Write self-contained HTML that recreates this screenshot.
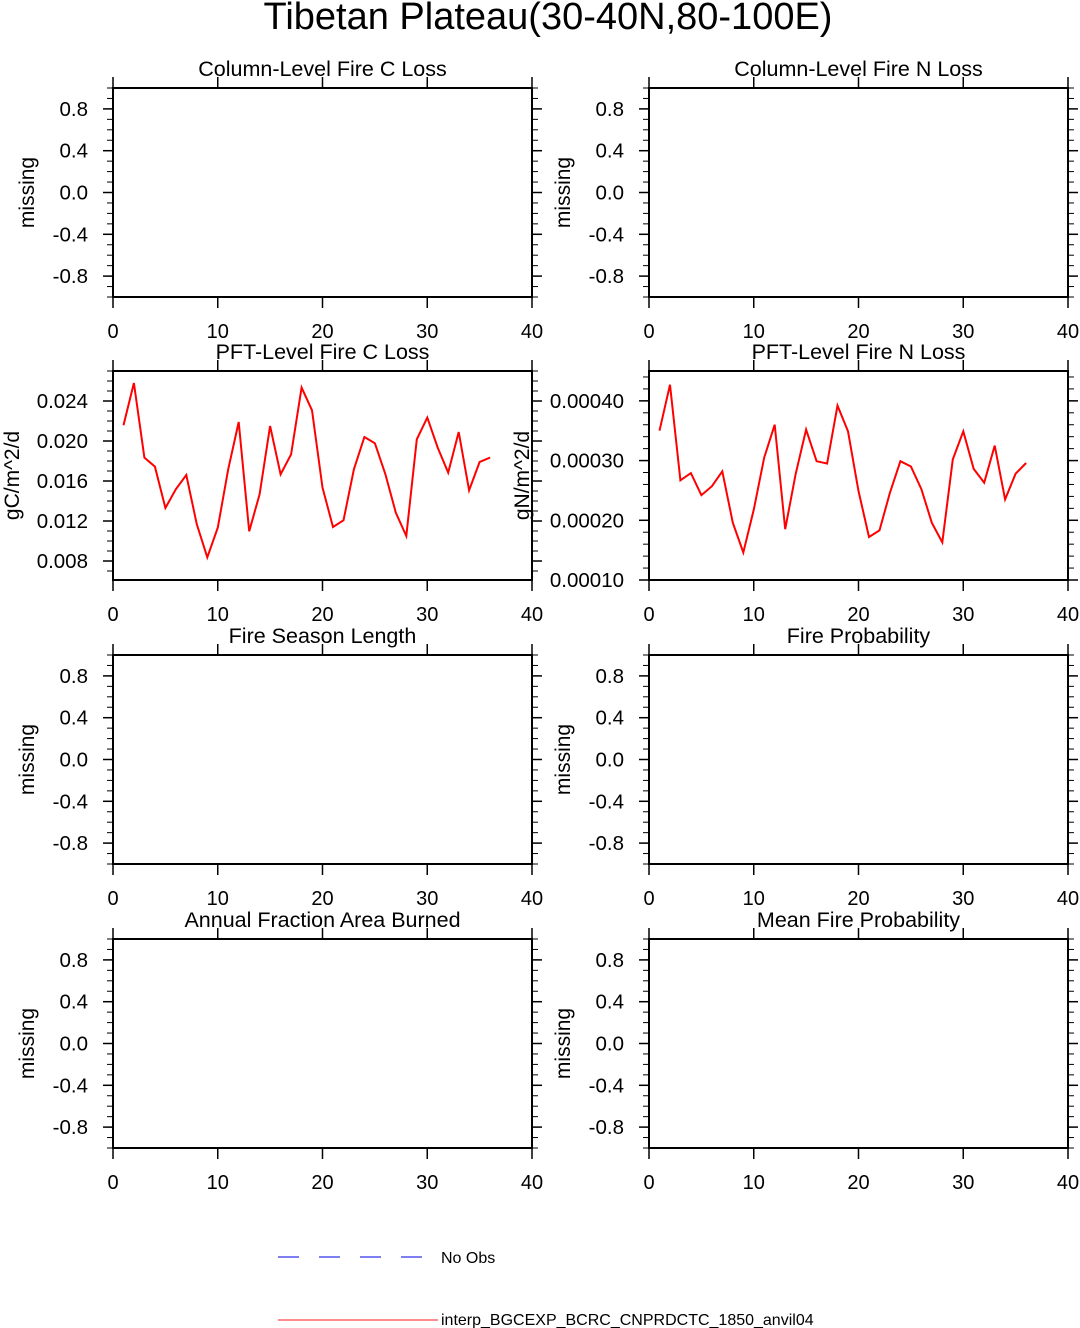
<!DOCTYPE html>
<html><head><meta charset="utf-8"><style>
html,body{margin:0;padding:0;background:#fff;}
svg{display:block;font-family:"Liberation Sans",Arial,sans-serif;}
</style></head><body>
<svg id="chart" width="1080" height="1328" viewBox="0 0 1080 1328" xmlns="http://www.w3.org/2000/svg">
<text x="548" y="29" font-size="38" text-anchor="middle">Tibetan Plateau(30-40N,80-100E)</text>
<g>
<line x1="278" y1="1257" x2="438" y2="1257" stroke="#3333ee" stroke-width="1.2" stroke-dasharray="21,20"/>
<text x="441" y="1263" font-size="16">No Obs</text>
<line x1="278" y1="1320" x2="438" y2="1320" stroke="#ff6666" stroke-width="1.5"/>
<text x="441" y="1325" font-size="16">interp_BGCEXP_BCRC_CNPRDCTC_1850_anvil04</text>
</g>
</svg>
<script>
const years = [1,2,3,4,5,6,7,8,9,10,11,12,13,14,15,16,17,18,19,20,21,22,23,24,25,26,27,28,29,30,31,32,33,34,35,36];
const pftFireCLoss = [0.02157,0.0258,0.01834,0.01744,0.0133,0.01517,0.0166,0.01167,0.00837,0.01134,0.01717,0.0219,0.01097,0.01467,0.0215,0.01667,0.01867,0.02534,0.02307,0.01534,0.0114,0.01207,0.01717,0.0204,0.01977,0.01667,0.01284,0.0105,0.02017,0.02234,0.01934,0.01684,0.0209,0.01507,0.0179,0.01834];
const pftFireNLoss = [0.00035,0.000427,0.000267,0.000279,0.000242,0.000257,0.000282,0.000196,0.000146,0.000218,0.000305,0.00036,0.000185,0.000277,0.000352,0.000299,0.000295,0.000392,0.000349,0.000249,0.000172,0.000183,0.000246,0.000299,0.00029,0.000252,0.000196,0.000163,0.000302,0.000349,0.000286,0.000263,0.000325,0.000235,0.000278,0.000296];
const xTicks = [0,10,20,30,40];
const missingTicks = [-0.8,-0.4,0.0,0.4,0.8];
const missingTickLabels = ["-0.8","-0.4","0.0","0.4","0.8"];
const cTicks = [0.008,0.012,0.016,0.020,0.024];
const cTickLabels = ["0.008","0.012","0.016","0.020","0.024"];
const nTicks = [0.0001,0.0002,0.0003,0.0004];
const nTickLabels = ["0.00010","0.00020","0.00030","0.00040"];

const NS="http://www.w3.org/2000/svg";
const svg=document.getElementById('chart');
function mk(tag,attrs,parent){const e=document.createElementNS(NS,tag);for(const k in attrs)e.setAttribute(k,attrs[k]);(parent||svg).appendChild(e);return e;}

const W=419,H=209;
const panels=[
 {name:'column-fire-c-loss',title:'Column-Level Fire C Loss',x:113,y:88,ytitle:'missing'},
 {name:'column-fire-n-loss',title:'Column-Level Fire N Loss',x:649,y:88,ytitle:'missing'},
 {name:'pft-fire-c-loss',title:'PFT-Level Fire C Loss',x:113,y:371,ytitle:'gC/m^2/d',data:pftFireCLoss,ymin:0.0061,ymax:0.027,ticks:cTicks,labels:cTickLabels,minor:0.001,ytx:12},
 {name:'pft-fire-n-loss',title:'PFT-Level Fire N Loss',x:649,y:371,ytitle:'gN/m^2/d',data:pftFireNLoss,ymin:0.0001,ymax:0.00045,ticks:nTicks,labels:nTickLabels,minor:0.00002,ytx:522},
 {name:'fire-season-length',title:'Fire Season Length',x:113,y:655,ytitle:'missing'},
 {name:'fire-probability',title:'Fire Probability',x:649,y:655,ytitle:'missing'},
 {name:'annual-fraction-area-burned',title:'Annual Fraction Area Burned',x:113,y:939,ytitle:'missing'},
 {name:'mean-fire-probability',title:'Mean Fire Probability',x:649,y:939,ytitle:'missing'}
];
panels.forEach(p=>{
 const g=mk('g',{});
 
 
 const ymin=p.data?p.ymin:-1, ymax=p.data?p.ymax:1;
 const ticks=p.data?p.ticks:missingTicks, labels=p.data?p.labels:missingTickLabels;
 const minor=p.data?p.minor:0.1;
 const sx=v=>p.x+v/40*W;
 const sy=v=>p.y+H-(v-ymin)/(ymax-ymin)*H;
 const start=Math.ceil(ymin/minor-1e-6);
 for(let i=start;i*minor<=ymax+1e-12;i++){
  const yy=sy(i*minor);
  const l=mk('line',{x1:p.x-6,x2:p.x,y1:yy,y2:yy,stroke:'#000','stroke-width':1},g);
  
  
  const r=mk('line',{x1:p.x+W,x2:p.x+W+6,y1:yy,y2:yy,stroke:'#000','stroke-width':1},g);
  
  
 }
 ticks.forEach((t,i)=>{
  const yy=sy(t);
  const l=mk('line',{x1:p.x-10,x2:p.x,y1:yy,y2:yy,stroke:'#000','stroke-width':1.5},g);
  
  
  const r=mk('line',{x1:p.x+W,x2:p.x+W+10,y1:yy,y2:yy,stroke:'#000','stroke-width':1.5},g);
  
  
  const tx=mk('text',{x:p.x-25,y:yy+7,'font-size':20.5,'text-anchor':'end'},g);
  
  
  tx.textContent=labels[i];
 });
 xTicks.forEach(t=>{
  const xx=sx(t);
  const b=mk('line',{x1:xx,x2:xx,y1:p.y+H,y2:p.y+H+11,stroke:'#000','stroke-width':1.5},g);
  
  
  const tp=mk('line',{x1:xx,x2:xx,y1:p.y-11,y2:p.y,stroke:'#000','stroke-width':1.5},g);
  
  
  const tx=mk('text',{x:xx,y:p.y+H+41,'font-size':20,'text-anchor':'middle'},g);
  
  
  tx.textContent=String(t);
 });
 const fr=mk('rect',{x:p.x,y:p.y,width:W,height:H,fill:'none',stroke:'#000','stroke-width':2},g);
 
 
 const ti=mk('text',{x:p.x+W/2,y:p.y-12,'font-size':21.5,'text-anchor':'middle'},g);
 
 
 ti.textContent=p.title;
 const ytx=p.data?p.ytx:p.x-86;
 const yc=p.y+H/2;
 const yt=mk('text',{x:ytx,y:yc,'font-size':21,'text-anchor':'middle',transform:'rotate(-90 '+ytx+' '+yc+')',dy:'7'},g);
 
 
 yt.textContent=p.ytitle;
 if(p.data){
  const pts=p.data.map((v,i)=>sx(years[i]).toFixed(1)+','+sy(v).toFixed(1)).join(' ');
  const pl=mk('polyline',{points:pts,fill:'none',stroke:'#ff0000','stroke-width':2,'stroke-linejoin':'miter'},g);
  
  
 }
});
</script>
</body></html>
